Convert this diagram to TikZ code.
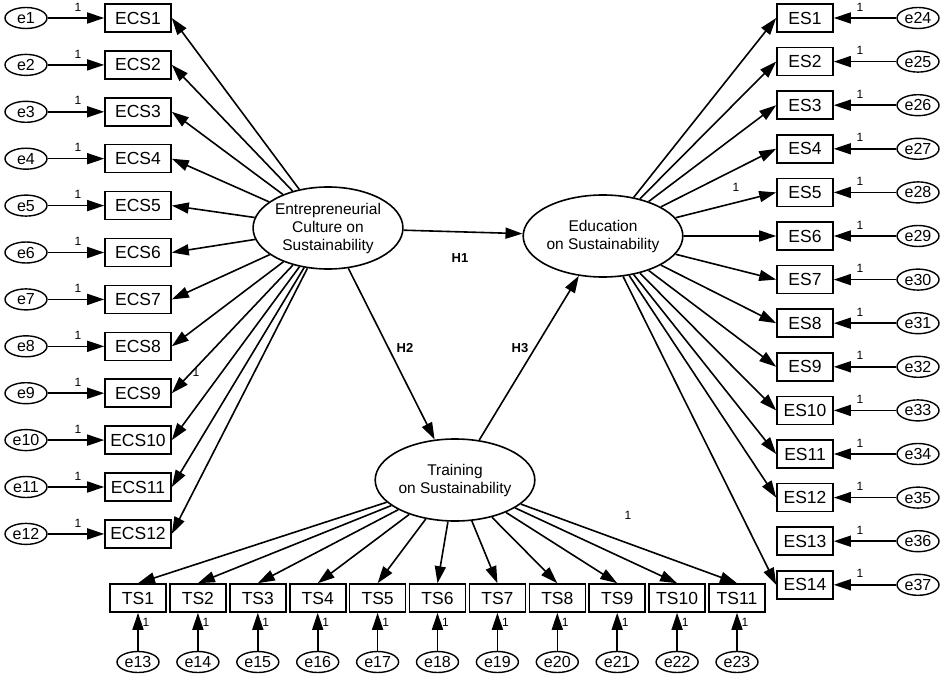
\documentclass[tikz,border=0pt]{standalone}
\usepackage{fontspec}
\setmainfont{Liberation Sans}
\usetikzlibrary{arrows.meta,shapes.geometric}
\begin{document}
\begin{tikzpicture}[x=1pt,y=-1pt,
  obs/.style={draw,line width=1.6pt,minimum width=66pt,minimum height=28pt,inner sep=1pt,font=\fontsize{17.5}{17.5}\selectfont},
  obsS/.style={obs,minimum width=56pt},
  err/.style={draw,ellipse,line width=1.4pt,minimum width=42pt,minimum height=21pt,inner sep=0pt,font=\fontsize{16}{16}\selectfont},
  lat/.style={draw,ellipse,line width=1.6pt,minimum width=126pt,minimum height=82pt,inner sep=0pt,align=center,font=\fontsize{15.5}{18}\selectfont},
  arr/.style={line width=1.6pt,-{Triangle[length=17pt,width=11pt]}},
  one/.style={font=\fontsize{12}{12}\selectfont,inner sep=1pt},
  hl/.style={font=\bfseries\fontsize{13}{13}\selectfont}]
\useasboundingbox (0,0) rectangle (941,684);
\node[lat] (ecs) at (328,228) {Entrepreneurial\\Culture on\\Sustainability};
\node[lat] (edu) at (603,236) {Education\\on Sustainability};
\node[lat] (tr) at (455,480) {Training\\on Sustainability};
\foreach \i in {1,...,12}{
  \pgfmathsetmacro\yy{18+(\i-1)*46.9}
  \node[obs] (ECS\i) at (138,\yy) {ECS\i};
  \node[err] (e\i) at (26,\yy) {e\i};
  \draw[arr] (e\i) -- (ECS\i);
  \node[one] at (78,\yy-11) {1};
  \draw[arr] (ecs) -- (ECS\i.east);
}
\foreach \i in {1,...,14}{
  \pgfmathsetmacro\yy{18+(\i-1)*43.6}
  \pgfmathtruncatemacro\k{\i+23}
  \node[obsS] (ES\i) at (805,\yy) {ES\i};
  \node[err] (e\k) at (918,\yy) {e\k};
  \draw[arr] (e\k) -- (ES\i);
  \node[one] at (860,\yy-11) {1};
}
\foreach \i in {1,...,12,14}{ \draw[arr] (edu) -- (ES\i.west); }
\foreach \i in {1,...,11}{
  \pgfmathsetmacro\xx{138+(\i-1)*59.9}
  \pgfmathtruncatemacro\k{\i+12}
  \node[obsS] (TS\i) at (\xx,598) {TS\i};
  \node[err] (e\k) at (\xx,662) {e\k};
  \draw[arr] (e\k) -- (TS\i);
  \node[one] at (\xx+8,622) {1};
  \draw[arr] (tr) -- (TS\i.north);
}
\node[one] at (196,372) {1};
\node[one] at (736,187) {1};
\node[one] at (628,515) {1};
\draw[arr] (ecs) -- (edu);
\draw[arr] (ecs) -- (tr);
\draw[arr] (tr) -- (edu);
\node[hl] (h1) at (460,258) {H1};
\node[hl] (h2) at (405,348) {H2};
\node[hl] (h3) at (520,348) {H3};
\end{tikzpicture}
\end{document}
